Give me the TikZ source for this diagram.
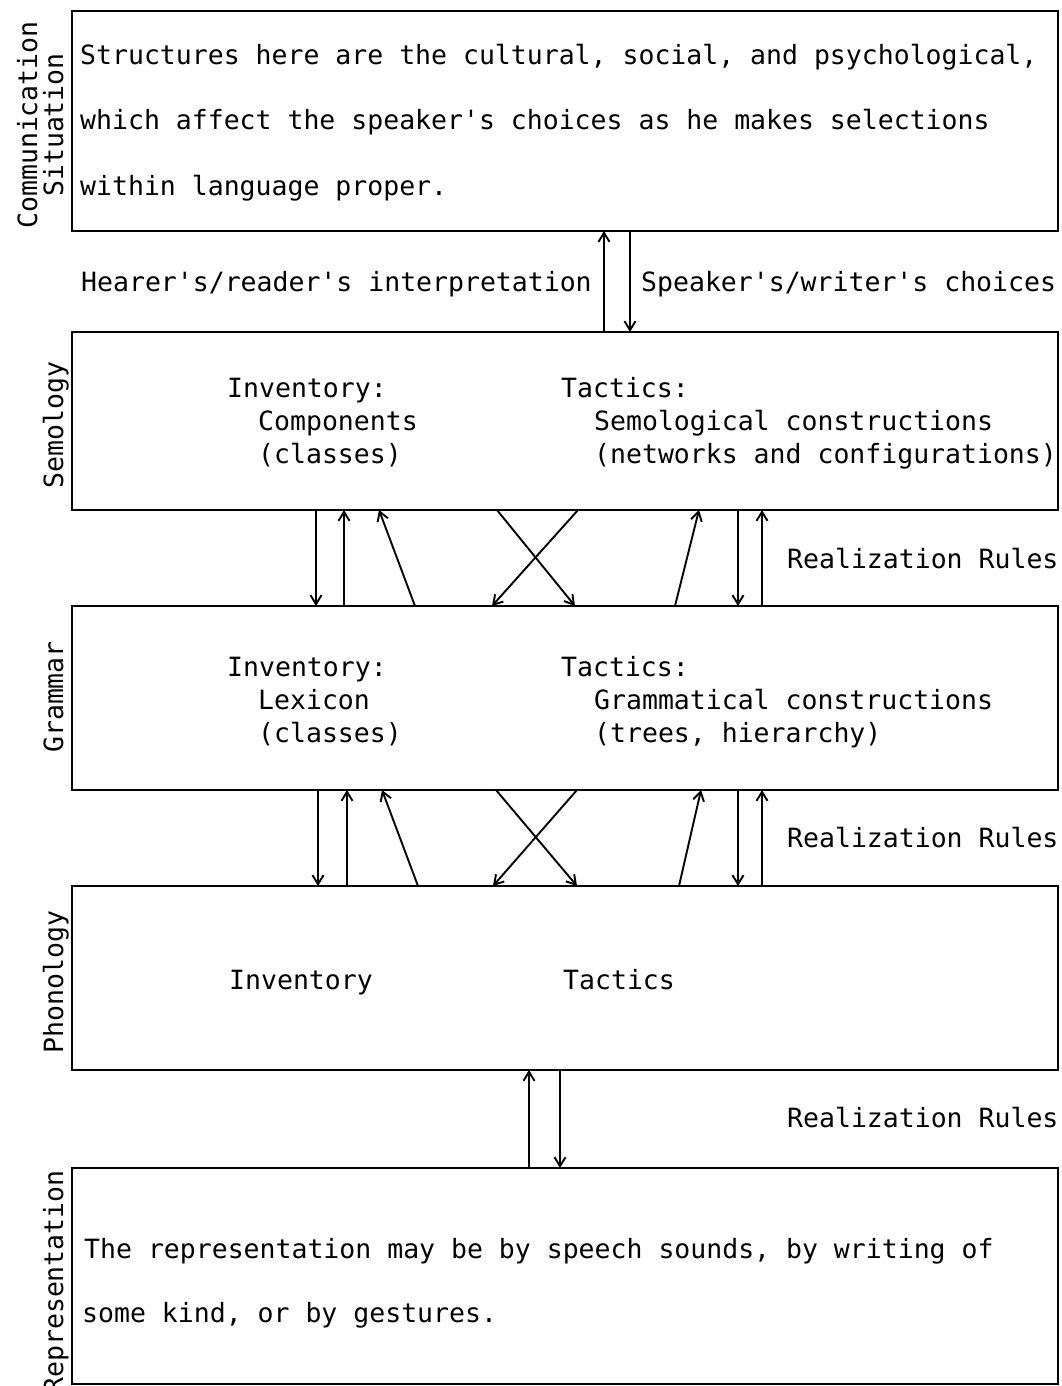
\documentclass[tikz,border=0pt]{standalone}
\usepackage{fontspec}
\setmonofont{DejaVu Sans Mono}
\usetikzlibrary{arrows.meta,calc}
\begin{document}
\begin{tikzpicture}[x=1pt,y=-1pt,
  every node/.style={font=\ttfamily\fontsize{26.5}{30}\selectfont},
  layer/.style={draw, line width=2.2pt, inner sep=0pt, outer sep=0pt, anchor=north west, minimum width=986pt},
  txt/.style={anchor=base west, inner sep=0pt},
  side/.style={anchor=base, rotate=90, inner sep=0pt},
  link/.style={line width=1.9pt, -{Straight Barb[length=9pt,width=11pt,line width=1.9pt]}}]
\useasboundingbox (0,0) rectangle (1062,1386);
% layers
\node[layer, minimum height=220pt] (comm) at (72,11) {};
\node[layer, minimum height=178pt] (sem) at (72,332) {};
\node[layer, minimum height=184pt] (gram) at (72,606) {};
\node[layer, minimum height=184pt] (phon) at (72,886) {};
\node[layer, minimum height=216pt] (rep) at (72,1168) {};
% side labels
\node[side] (lc1) at (37,125) {Communication};
\node[side] (lc2) at (63,125) {Situation};
\node[side] (ls) at (63,425) {Semology};
\node[side] (lg) at (63,697) {Grammar};
\node[side] (lp) at (63,982) {Phonology};
\node[side] (lr) at (63,1282) {Representation};
% communication text
\node[txt] (c1) at (80,65) {Structures here are the cultural, social, and psychological,};
\node[txt] (c2) at (80,130) {which affect the speaker's choices as he makes selections};
\node[txt] (c3) at (80,195) {within language proper.};
\node[txt] (hr) at (81,291) {Hearer's/reader's interpretation};
\node[txt] (sw) at (641,291) {Speaker's/writer's choices};
% semology
\node[txt] (s1) at (227,397) {Inventory:};
\node[txt] (s2) at (258,430) {Components};
\node[txt] (s3) at (258,463) {(classes)};
\node[txt] (s4) at (561,397) {Tactics:};
\node[txt] (s5) at (594,430) {Semological constructions};
\node[txt] (s6) at (594,463) {(networks and configurations)};
% grammar
\node[txt] (g1) at (227,676) {Inventory:};
\node[txt] (g2) at (258,709) {Lexicon};
\node[txt] (g3) at (258,742) {(classes)};
\node[txt] (g4) at (561,676) {Tactics:};
\node[txt] (g5) at (594,709) {Grammatical constructions};
\node[txt] (g6) at (594,742) {(trees, hierarchy)};
% phonology
\node[txt] (p1) at (229,989) {Inventory};
\node[txt] (p2) at (563,989) {Tactics};
% representation
\node[txt] (r1) at (84,1258) {The representation may be by speech sounds, by writing of};
\node[txt] (r2) at (82,1322) {some kind, or by gestures.};
% realization rules
\node[txt] (rr1) at (787,568) {Realization Rules};
\node[txt] (rr2) at (787,847) {Realization Rules};
\node[txt] (rr3) at (787,1127) {Realization Rules};
% comm <-> sem
\draw[link] ($(sem.north west)+(532,0)$) -- ($(comm.south west)+(532,0)$);
\draw[link] ($(comm.south west)+(558,0)$) -- ($(sem.north west)+(558,0)$);
% sem <-> gram
\draw[link] ($(sem.south west)+(244,0)$) -- ($(gram.north west)+(244,0)$);
\draw[link] ($(gram.north west)+(272,0)$) -- ($(sem.south west)+(272,0)$);
\draw[link] ($(gram.north west)+(343,0)$) -- ($(sem.south west)+(307,0)$);
\draw[link] ($(sem.south west)+(425,0)$) -- ($(gram.north west)+(503,0)$);
\draw[link] ($(sem.south west)+(506,0)$) -- ($(gram.north west)+(420,0)$);
\draw[link] ($(gram.north west)+(603,0)$) -- ($(sem.south west)+(627,0)$);
\draw[link] ($(sem.south west)+(666,0)$) -- ($(gram.north west)+(666,0)$);
\draw[link] ($(gram.north west)+(690,0)$) -- ($(sem.south west)+(690,0)$);
% gram <-> phon
\draw[link] ($(gram.south west)+(246,0)$) -- ($(phon.north west)+(246,0)$);
\draw[link] ($(phon.north west)+(275,0)$) -- ($(gram.south west)+(275,0)$);
\draw[link] ($(phon.north west)+(346,0)$) -- ($(gram.south west)+(310,0)$);
\draw[link] ($(gram.south west)+(424,0)$) -- ($(phon.north west)+(505,0)$);
\draw[link] ($(gram.south west)+(505,0)$) -- ($(phon.north west)+(421,0)$);
\draw[link] ($(phon.north west)+(607,0)$) -- ($(gram.south west)+(629,0)$);
\draw[link] ($(gram.south west)+(666,0)$) -- ($(phon.north west)+(666,0)$);
\draw[link] ($(phon.north west)+(690,0)$) -- ($(gram.south west)+(690,0)$);
% phon <-> rep
\draw[link] ($(rep.north west)+(457,0)$) -- ($(phon.south west)+(457,0)$);
\draw[link] ($(phon.south west)+(488,0)$) -- ($(rep.north west)+(488,0)$);
\end{tikzpicture}
\end{document}
